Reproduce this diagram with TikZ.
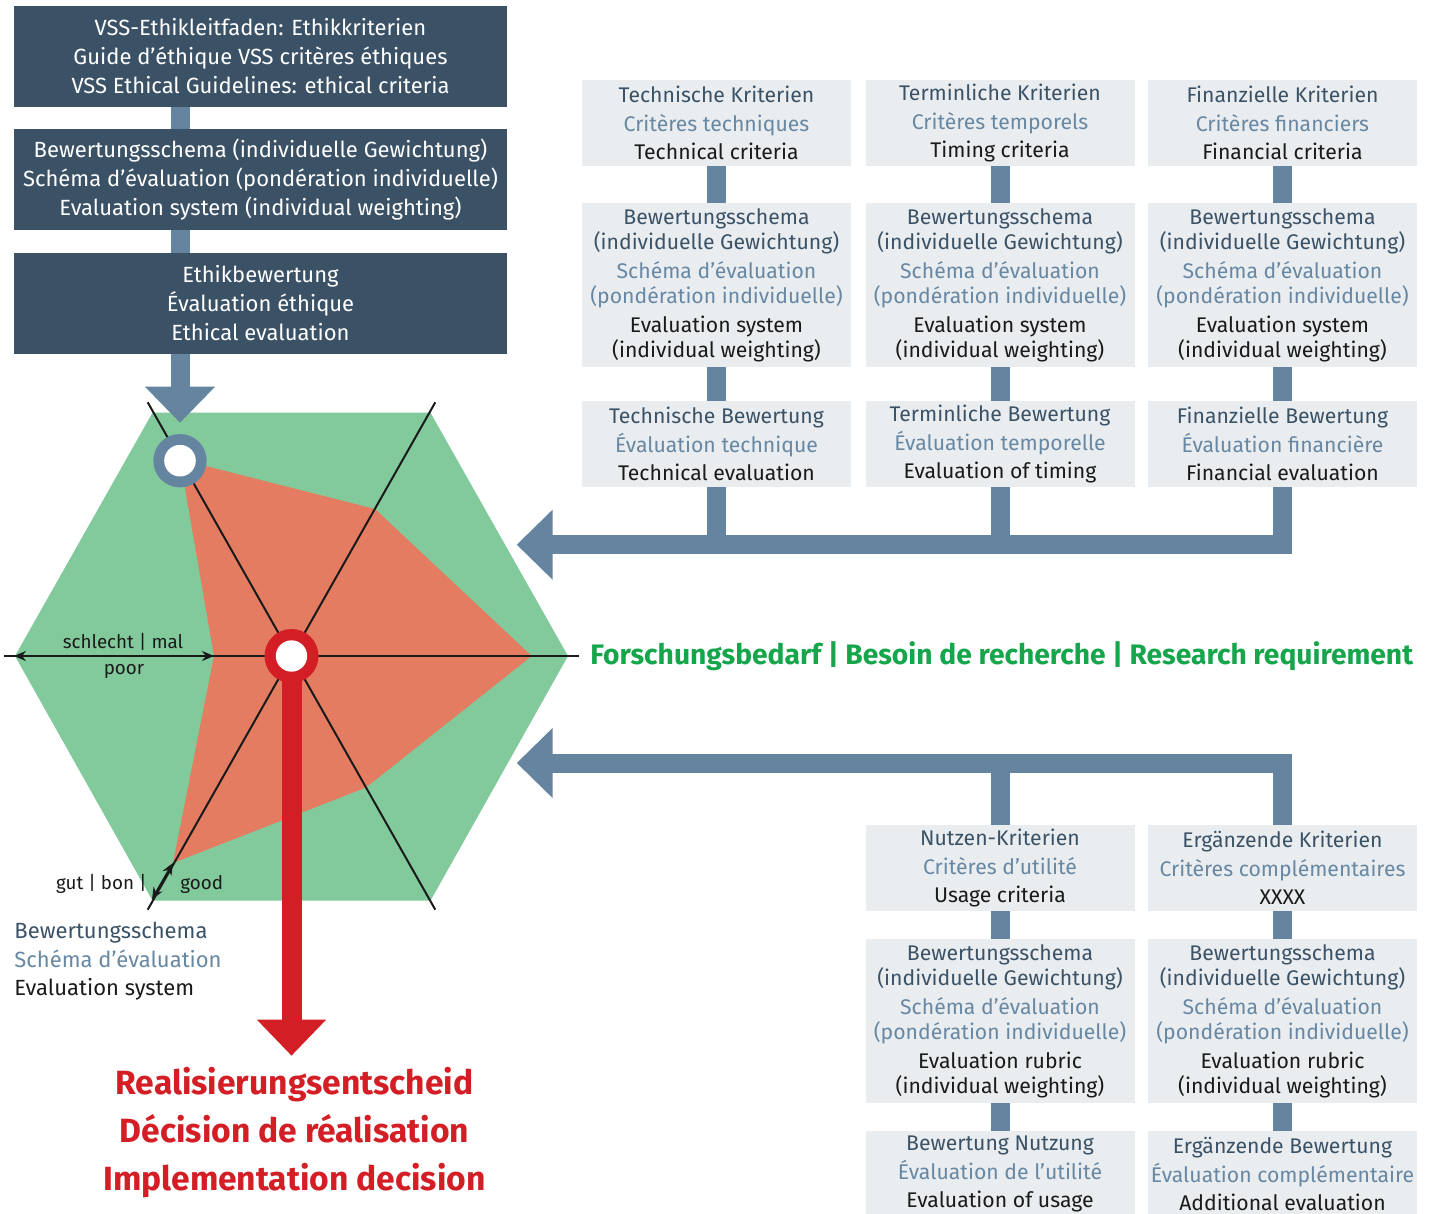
\documentclass[tikz,border=0pt]{standalone}
\usepackage{fontspec}
\setmainfont{Fira Sans}
\usetikzlibrary{arrows.meta}
\definecolor{dk}{HTML}{3B5266}
\definecolor{mid}{HTML}{6584A0}
\definecolor{fr}{HTML}{6787A3}
\definecolor{lbg}{HTML}{E9EDF0}
\definecolor{hexg}{HTML}{82CA9C}
\definecolor{poly}{HTML}{E37C60}
\definecolor{rd}{HTML}{D21E24}
\definecolor{gtxt}{HTML}{15A54A}
\definecolor{en}{HTML}{1A1A1A}
\newcommand{\trilang}[3]{{\color{dk}#1}\\{\color{fr}#2}\\{\color{en}#3}}
\newcommand{\sixlang}[6]{{\color{dk}#1}\\{\color{dk}#2}\\[2pt]{\color{fr}#3}\\{\color{fr}#4}\\[2pt]{\color{en}#5}\\{\color{en}#6}}
\begin{document}
\begin{tikzpicture}[x=0.5pt,y=-0.5pt,
  darkbox/.style={fill=dk, text=white, minimum width=246.5pt, minimum height=50.5pt, inner sep=0pt, align=center, font=\fontsize{11}{14.5}\selectfont},
  lbox/.style={fill=lbg, minimum width=134.5pt, inner sep=0pt, align=center, font=\fontsize{10.6}{14.3}\selectfont},
  lboxA/.style={lbox, minimum height=43pt},
  lboxB/.style={lbox, minimum height=81.7pt, font=\fontsize{10.6}{12.5}\selectfont},
  conn/.style={draw=mid, line width=9.5pt},
  bigarrow/.style={draw=mid, line width=9.5pt, line join=miter, -{Triangle[length=18pt,width=34pt]}},
  redarrow/.style={draw=rd, line width=10pt, -{Triangle[length=18pt,width=33.5pt]}},
  axisline/.style={draw=en, line width=1pt},
  dblarrow/.style={draw=en, line width=1pt, {Stealth[length=6pt,width=5pt]}-{Stealth[length=6pt,width=5pt]}},
  lbl/.style={text=en, inner sep=0pt, font=\fontsize{9.4}{11}\selectfont}
]
\useasboundingbox (0,0) rectangle (1431,1214);
\clip (0,0) rectangle (1431,1214);

% ---------- left dark boxes ----------
\coordinate (cx) at (180,0);
\node[darkbox] (d1) at (260.5,56.5) {VSS-Ethikleitfaden: Ethikkriterien\\Guide d’éthique VSS critères éthiques\\VSS Ethical Guidelines: ethical criteria};
\node[darkbox] (d2) at (260.5,179.5) {Bewertungsschema (individuelle Gewichtung)\\Schéma d’évaluation (pondération individuelle)\\Evaluation system (individual weighting)};
\node[darkbox] (d3) at (260.5,303.5) {Ethikbewertung\\Évaluation éthique\\Ethical evaluation};
\draw[conn] (d1.south -| cx) -- (d2.north -| cx);
\draw[conn] (d2.south -| cx) -- (d3.north -| cx);

% ---------- hexagon ----------
\fill[hexg] (568,656) -- (430.5,412.7) -- (152.5,412.7) -- (15,656) -- (152.5,900.7) -- (430.5,900.7) -- cycle;
\fill[poly] (180,459.5) -- (375,509) -- (531.7,656) -- (366,787.5) -- (173,863) -- (214,656) -- cycle;
\draw[axisline] (4,656) -- (579,656);
\draw[axisline] (147.7,402.3) -- (435.3,909.7);
\draw[axisline] (435.3,402.3) -- (147.7,909.7);
\draw[dblarrow] (14,656) -- (214,656);
\draw[dblarrow] (173,863) -- (152,899.5);
\node[lbl] (bad) at (123,641.7) {schlecht | mal};
\node[lbl] (poor) at (124,671.7) {poor};
\node[lbl, anchor=east] (gut) at (147,884) {gut | bon |};
\node[lbl, anchor=west] (good) at (180,884) {good};

% top arrow into hexagon
\coordinate (topTip) at (180,422.7);
\draw[bigarrow] (d3.south -| cx) -- (topTip);

% red arrow and circles
\coordinate (redc) at (291.5,656);
\coordinate (redTip) at (291.5,1055.7);
\draw[redarrow] (redc) -- (redTip);
\fill[rd] (redc) circle (13.5pt);
\fill[white] (redc) circle (7.85pt);
\coordinate (bluec) at (180,460.7);
\fill[mid] (bluec) circle (13.35pt);
\fill[white] (bluec) circle (7.9pt);

% legend
\node[anchor=west, align=left, inner sep=0pt, font=\fontsize{11}{14.25}\selectfont] (legend) at (14,961.5) {{\color{dk}Bewertungsschema}\\{\color{fr}Schéma d’évaluation}\\{\color{en}Evaluation system}};

% decision
\node[text=rd, align=center, inner sep=0pt, font=\bfseries\fontsize{16.8}{24}\selectfont] (dec) at (294.5,1133) {Realisierungsentscheid\\Décision de réalisation\\Implementation decision};

% research requirement
\node[text=gtxt, anchor=west, inner sep=0pt, font=\bfseries\fontsize{14.1}{16}\selectfont] (res) at (590,656) {Forschungsbedarf | Besoin de recherche | Research requirement};

% ---------- right upper columns ----------
\node[lboxA] (t1) at (716.5,123) {\trilang{Technische Kriterien}{Critères techniques}{Technical criteria}};
\node[lboxA] (t2) at (1000,123) {\trilang{Terminliche Kriterien}{Critères temporels}{Timing criteria}};
\node[lboxA] (t3) at (1282.5,123) {\trilang{Finanzielle Kriterien}{Critères financiers}{Financial criteria}};
\node[lboxB] (m1) at (716.5,285) {\sixlang{Bewertungsschema}{(individuelle Gewichtung)}{Schéma d’évaluation}{(pondération individuelle)}{Evaluation system}{(individual weighting)}};
\node[lboxB] (m2) at (1000,285) {\sixlang{Bewertungsschema}{(individuelle Gewichtung)}{Schéma d’évaluation}{(pondération individuelle)}{Evaluation system}{(individual weighting)}};
\node[lboxB] (m3) at (1282.5,285) {\sixlang{Bewertungsschema}{(individuelle Gewichtung)}{Schéma d’évaluation}{(pondération individuelle)}{Evaluation system}{(individual weighting)}};
\node[lboxA] (b1) at (716.5,444) {\trilang{Technische Bewertung}{Évaluation technique}{Technical evaluation}};
\node[lboxA] (b2) at (1000,444) {\trilang{Terminliche Bewertung}{Évaluation temporelle}{Evaluation of timing}};
\node[lboxA] (b3) at (1282.5,444) {\trilang{Finanzielle Bewertung}{Évaluation financière}{Financial evaluation}};
\foreach \c in {1,2,3}{
  \draw[conn] (t\c.south) -- (m\c.north);
  \draw[conn] (m\c.south) -- (b\c.north);
}
\coordinate (tipU) at (516.7,544.7);
\draw[conn] (b1.south) -- (b1.south |- tipU);
\draw[conn] (b2.south) -- (b2.south |- tipU);
\draw[bigarrow] (b3.south) |- (tipU);

% ---------- right lower columns ----------
\node[lboxA] (u1) at (1000,868) {\trilang{Nutzen-Kriterien}{Critères d’utilité}{Usage criteria}};
\node[lboxA] (u2) at (1282.5,868) {\trilang{Ergänzende Kriterien}{Critères complémentaires}{XXXX}};
\node[lboxB] (v1) at (1000,1021) {\sixlang{Bewertungsschema}{(individuelle Gewichtung)}{Schéma d’évaluation}{(pondération individuelle)}{Evaluation rubric}{(individual weighting)}};
\node[lboxB] (v2) at (1282.5,1021) {\sixlang{Bewertungsschema}{(individuelle Gewichtung)}{Schéma d’évaluation}{(pondération individuelle)}{Evaluation rubric}{(individual weighting)}};
\node[lboxA] (w1) at (1000,1174) {\trilang{Bewertung Nutzung}{Évaluation de l’utilité}{Evaluation of usage}};
\node[lboxA] (w2) at (1282.5,1174) {\trilang{Ergänzende Bewertung}{Évaluation complémentaire}{Additional evaluation}};
\foreach \c in {1,2}{
  \draw[conn] (u\c.south) -- (v\c.north);
  \draw[conn] (v\c.south) -- (w\c.north);
}
\coordinate (tipL) at (516.7,763);
\draw[conn] (u1.north) -- (u1.north |- tipL);
\draw[bigarrow] (u2.north) |- (tipL);
\end{tikzpicture}
\end{document}
